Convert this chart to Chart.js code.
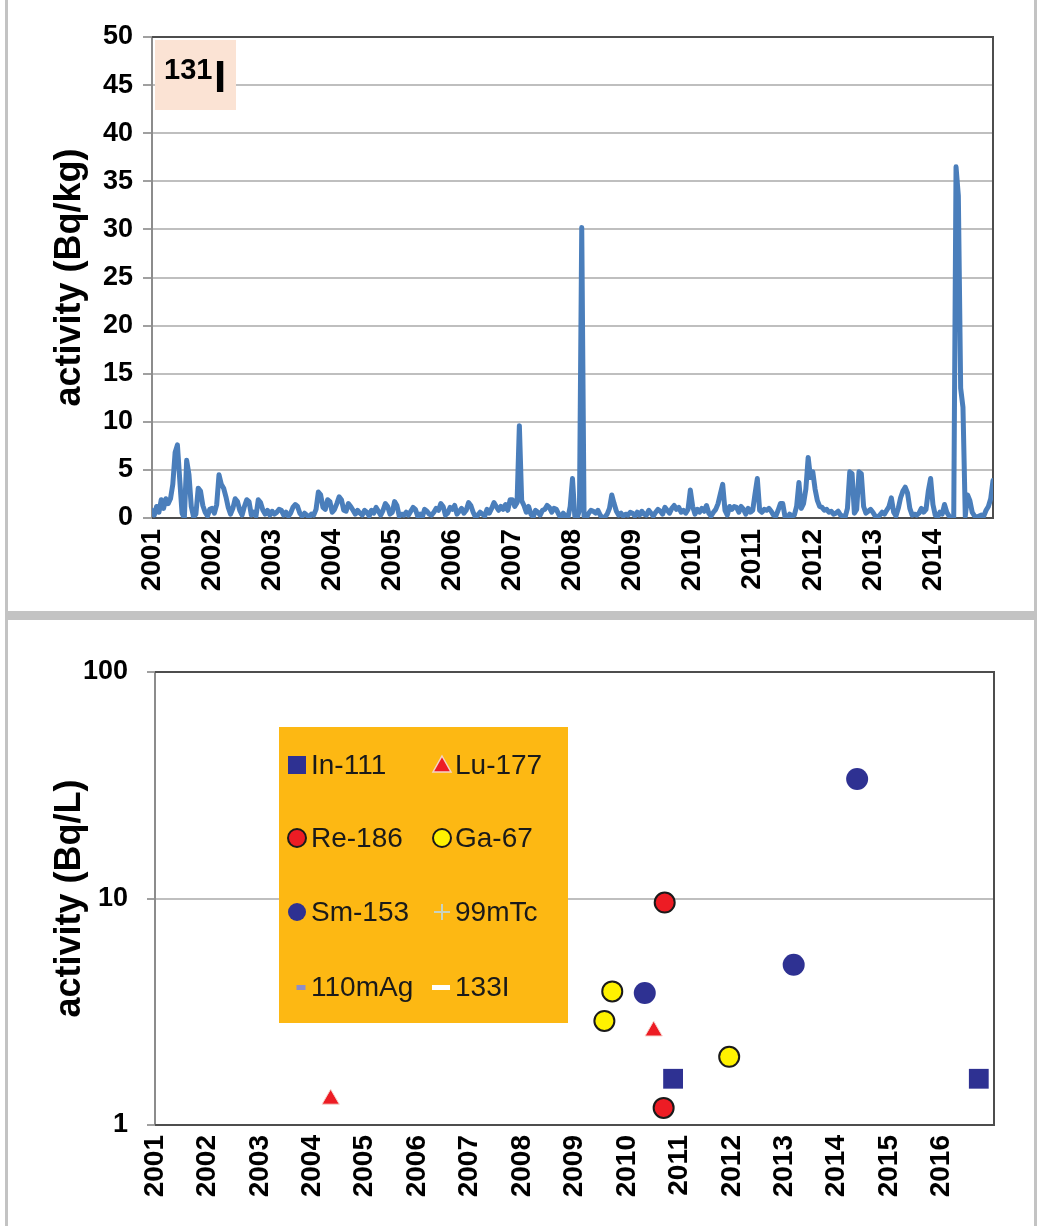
<!DOCTYPE html>
<html><head><meta charset="utf-8">
<script src="https://cdn.jsdelivr.net/npm/chart.js@4.4.1/dist/chart.umd.min.js"></script>
<style>
html,body{margin:0;padding:0;background:#fff;}
#page{position:relative;width:1041px;height:1226px;overflow:hidden;background:#fff;}
#top{position:absolute;left:0;top:0;}
#bot{position:absolute;left:0;top:620px;}
.frame{position:absolute;background:#c3c3c3;}
</style></head><body>
<div id="page">
<canvas id="top" width="1041" height="611"></canvas>
<canvas id="bot" width="1041" height="606"></canvas>
<div class="frame" style="left:5px;top:0;width:3px;height:1226px"></div>
<div class="frame" style="left:1034px;top:0;width:3px;height:1226px"></div>
<div class="frame" style="left:5px;top:611px;width:1032px;height:9px"></div>
</div>
<script>
// ---------- Top panel: 131I activity (Bq/kg), ~biweekly samples per year ----------
const i131_2001 = [0.8,0.3,1.2,0.6,1.9,1.0,2.0,1.5,2.0,3.5,6.8,7.6,4.0,0.5,0.0,6.0,4.5,1.2,0.1,0.4,3.1,2.8,1.3,0.6,0.2,0.9];
const i131_2002 = [1.0,0.5,1.4,4.5,3.5,3.1,2.2,1.1,0.4,1.0,2.0,1.7,0.8,0.3,1.2,1.9,1.7,0.3,0.6,0.2,1.9,1.6,0.8,0.4,0.8,0.3];
const i131_2003 = [0.7,0.4,0.6,0.9,0.8,0.3,0.6,0.2,0.5,1.1,1.4,1.2,0.5,0.2,0.5,0.3,0.1,0.4,0.3,0.9,2.7,2.4,1.1,0.9,1.9,1.7];
const i131_2004 = [0.6,0.9,1.5,2.2,1.9,0.8,0.7,1.5,1.2,0.8,0.4,0.8,0.5,0.3,0.8,0.6,0.2,0.8,0.5,1.1,0.7,0.3,0.8,1.5,1.2,0.4];
const i131_2005 = [0.6,1.7,1.3,0.2,0.4,0.3,0.6,0.3,0.7,1.1,0.9,0.2,0.4,0.1,0.9,0.7,0.4,0.3,0.6,1.0,0.8,1.5,1.2,0.3,0.5,1.1];
const i131_2006 = [0.9,1.3,0.4,0.7,1.0,0.5,0.8,1.6,1.3,0.6,0.1,0.3,0.6,0.4,0.2,0.9,0.5,1.0,1.6,1.2,0.8,1.2,0.9,1.4,0.8,1.9];
const i131_2007 = [1.9,1.2,1.6,9.6,1.8,1.3,0.6,1.2,0.4,0.1,0.8,0.6,0.3,0.8,0.9,1.3,1.1,0.6,1.0,0.9,0.4,0.0,0.5,0.2,0.0,1.2];
const i131_2008 = [4.1,0.2,0.0,0.8,30.2,0.2,0.0,0.5,0.8,0.7,0.5,0.8,0.3,0.0,0.1,0.4,1.0,2.4,1.5,0.7,0.3,0.5,0.2,0.4,0.3,0.6];
const i131_2009 = [0.5,0.2,0.6,0.3,0.7,0.4,0.3,0.8,0.5,0.2,0.6,0.9,0.7,0.4,1.1,0.8,0.5,1.0,1.3,0.9,1.1,0.6,0.8,0.5,0.9,2.9];
const i131_2010 = [1.2,0.4,0.9,0.6,1.0,0.7,1.3,0.5,0.2,0.6,0.9,1.5,2.5,3.5,0.8,0.3,1.2,0.9,1.2,1.1,0.6,1.2,0.9,0.4,1.0,0.6];
const i131_2011 = [0.8,2.5,4.1,0.8,0.6,0.9,0.8,1.0,0.7,0.3,0.2,0.8,1.5,1.5,0.1,0.0,0.4,0.2,0.3,1.2,3.7,1.0,1.5,3.0,6.3,4.2];
const i131_2012 = [4.8,3.0,1.8,1.2,1.1,0.8,0.9,0.6,0.7,0.4,0.5,0.7,0.3,0.2,0.1,1.0,4.8,4.6,0.5,0.9,4.8,4.6,1.2,0.5,0.7,0.9];
const i131_2013 = [0.6,0.2,0.1,0.3,0.6,0.4,0.8,1.2,2.1,0.6,0.2,1.0,2.1,2.8,3.2,2.6,1.0,0.3,0.4,0.3,0.5,1.0,0.6,0.9,2.8,4.1];
const i131_2014 = [1.4,0.3,0.1,0.6,0.4,1.4,0.6,0.2,0.0,0.0,36.5,33.5,13.5,11.5,0.2,2.4,1.8,0.6,0.2,0.1,0.2,0.3,0.2,0.8,1.2,2.0];
const i131_2015 = [3.9];
const sampleYears = [2001,2002,2003,2004,2005,2006,2007,2008,2009,2010,2011,2012,2013,2014];
const i131ByYear = [i131_2001,i131_2002,i131_2003,i131_2004,i131_2005,i131_2006,i131_2007,i131_2008,i131_2009,i131_2010,i131_2011,i131_2012,i131_2013,i131_2014];
const topYearTicks = [2001,2002,2003,2004,2005,2006,2007,2008,2009,2010,2011,2012,2013,2014];
const topYTicks = [0,5,10,15,20,25,30,35,40,45,50];

// ---------- Bottom panel: activity (Bq/L) ----------
const in111Dates = [2010.88, 2016.71];  const in111Vals = [1.6, 1.6];
const lu177Dates = [2004.35, 2010.51];  const lu177Vals = [1.3, 2.6];
const re186Dates = [2010.72, 2010.70];  const re186Vals = [9.6, 1.19];
const ga67Dates  = [2009.57, 2009.72, 2011.95]; const ga67Vals = [2.88, 3.89, 2.0];
const sm153Dates = [2010.34, 2013.18, 2014.39]; const sm153Vals = [3.83, 5.1, 33.7];
const tc99mDates = []; const tc99mVals = [];
const ag110mDates = []; const ag110mVals = [];
const i133Dates = []; const i133Vals = [];
const bottomYearTicks = [2001,2002,2003,2004,2005,2006,2007,2008,2009,2010,2011,2012,2013,2014,2015,2016];
const bottomYTicks = [1, 10, 100];

// ---------- helpers ----------
const FONT = '"Liberation Sans", Arial, sans-serif';
function pts(xs, ys) { return xs.map((x, i) => ({x: x, y: ys[i]})); }
const i131Points = [];
sampleYears.forEach((yr, k) => {
  const vals = i131ByYear[k];
  vals.forEach((v, i) => i131Points.push({x: yr + i / vals.length, y: v}));
});
i131Points.push({x: 2015, y: i131_2015[0]});

const plotFrame = {
  id: 'plotFrame',
  beforeDatasetsDraw(chart, args, opts) {
    const {ctx, chartArea: a} = chart;
    ctx.save();
    ctx.lineWidth = 2;
    ctx.strokeStyle = opts.leftColor || '#8c8c8c';
    ctx.beginPath(); ctx.moveTo(a.left, a.top); ctx.lineTo(a.left, a.bottom); ctx.stroke();
    ctx.strokeStyle = opts.color || '#4d4d4d';
    ctx.beginPath();
    ctx.moveTo(a.left, a.top); ctx.lineTo(a.right, a.top); ctx.lineTo(a.right, a.bottom); ctx.lineTo(a.left, a.bottom);
    ctx.stroke();
    ctx.restore();
  }
};

const isoLabel = {
  id: 'isoLabel',
  beforeDatasetsDraw(chart, args, opts) {
    if (!opts || !opts.show) return;
    const {ctx} = chart;
    ctx.save();
    ctx.fillStyle = '#fbe3d4';
    ctx.fillRect(155, 40, 81, 70);
    ctx.fillStyle = '#000';
    ctx.textBaseline = 'alphabetic';
    ctx.font = 'bold 29px ' + FONT;
    ctx.fillText('131', 164, 79);
    ctx.font = 'bold 44px ' + FONT;
    ctx.fillText('I', 214, 92);
    ctx.restore();
  }
};

const boxLegend = {
  id: 'boxLegend',
  afterDatasetsDraw(chart, args, opts) {
    if (!opts || !opts.show) return;
    const {ctx} = chart;
    ctx.save();
    ctx.fillStyle = '#fdb813';
    ctx.fillRect(279, 107, 289, 296);
    const rows = [145, 218, 292, 367];
    const mx = [297, 442], tx = [311, 455];
    chart.data.datasets.forEach((ds, i) => {
      const col = i % 2, row = Math.floor(i / 2);
      const cx = mx[col], cy = rows[row];
      ctx.lineWidth = 2;
      if (ds.pointStyle === 'rect') {
        ctx.fillStyle = ds.backgroundColor; ctx.fillRect(cx - 9, cy - 9, 18, 18);
      } else if (ds.pointStyle === 'triangle') {
        ctx.beginPath(); ctx.moveTo(cx, cy - 9); ctx.lineTo(cx + 9, cy + 7); ctx.lineTo(cx - 9, cy + 7); ctx.closePath();
        ctx.fillStyle = ds.backgroundColor; ctx.fill();
        ctx.lineWidth = 1.5; ctx.strokeStyle = '#f3d2c8'; ctx.stroke();
      } else if (ds.pointStyle === 'circle') {
        ctx.beginPath(); ctx.arc(cx, cy, 9, 0, Math.PI * 2);
        ctx.fillStyle = ds.backgroundColor; ctx.fill();
        if (ds.borderWidth) { ctx.strokeStyle = ds.borderColor; ctx.lineWidth = 2; ctx.stroke(); }
      } else if (ds.pointStyle === 'cross') {
        ctx.strokeStyle = ds.borderColor; ctx.lineWidth = 2;
        ctx.beginPath(); ctx.moveTo(cx - 8, cy); ctx.lineTo(cx + 8, cy); ctx.moveTo(cx, cy - 8); ctx.lineTo(cx, cy + 8); ctx.stroke();
      } else if (ds.pointStyle === 'line') {
        ctx.fillStyle = ds.borderColor;
        const w = ds.legendDashWidth || 10;
        ctx.fillRect(cx - w / 2 + (ds.legendDashShift || 0), cy - 2, w, 5);
      }
      ctx.fillStyle = '#1a1a1a';
      ctx.font = '28px ' + FONT;
      ctx.textBaseline = 'middle';
      ctx.textAlign = 'left';
      ctx.fillText(ds.label, tx[col], cy + 1);
    });
    ctx.restore();
  }
};

Chart.register(plotFrame, isoLabel, boxLegend);

const yTickFont = {family: FONT, size: 27, weight: 'bold'};
const xTickFont = {family: FONT, size: 28, weight: 'bold'};
const titleFont = {family: FONT, size: 36, weight: 'bold'};

new Chart(document.getElementById('top'), {
  type: 'line',
  data: {datasets: [{
    label: '131I', data: i131Points, borderColor: '#4a7ebb', backgroundColor: '#4a7ebb',
    borderWidth: 5, pointRadius: 0, tension: 0, fill: false, borderJoinStyle: 'round', borderCapStyle: 'round'
  }]},
  options: {
    responsive: false, animation: false,
    layout: {padding: {left: 0, right: 48, top: 37, bottom: 0}},
    plugins: {legend: {display: false}, tooltip: {enabled: false},
      plotFrame: {color: '#4d4d4d', leftColor: '#8c8c8c'}, isoLabel: {show: true}, boxLegend: {show: false}},
    scales: {
      x: {type: 'linear', min: 2001, max: 2015,
        afterFit: s => { s.height = 93; },
        afterBuildTicks: s => { s.ticks = topYearTicks.map(v => ({value: v})); },
        grid: {display: false, drawTicks: false}, border: {display: false},
        ticks: {autoSkip: false, minRotation: 90, maxRotation: 90, padding: 11, color: '#000', font: xTickFont,
          callback: v => String(v)}},
      y: {min: 0, max: 50,
        afterFit: s => { s.width = 152; },
        afterBuildTicks: s => { s.ticks = topYTicks.map(v => ({value: v})); },
        grid: {color: '#bfbfbf', lineWidth: 2, tickLength: 9, tickColor: '#a0a0a0'}, border: {display: false},
        ticks: {padding: 10, color: '#000', font: yTickFont, callback: v => String(v)},
        title: {display: true, text: 'activity (Bq/kg)', color: '#000', font: titleFont, padding: {top: 48, bottom: 0}}}
    }
  }
});

new Chart(document.getElementById('bot'), {
  type: 'scatter',
  data: {datasets: [
    {label: 'In-111', data: pts(in111Dates, in111Vals), pointStyle: 'rect', pointRadius: 14, backgroundColor: '#2e3192', borderColor: '#2e3192', borderWidth: 0},
    {label: 'Lu-177', data: pts(lu177Dates, lu177Vals), pointStyle: 'triangle', pointRadius: 10, backgroundColor: '#ed1c24', borderColor: '#f6d6cf', borderWidth: 1},
    {label: 'Re-186', data: pts(re186Dates, re186Vals), pointStyle: 'circle', pointRadius: 10, backgroundColor: '#ed1c24', borderColor: '#1a1a1a', borderWidth: 2},
    {label: 'Ga-67', data: pts(ga67Dates, ga67Vals), pointStyle: 'circle', pointRadius: 10, backgroundColor: '#fff200', borderColor: '#1a1a1a', borderWidth: 2},
    {label: 'Sm-153', data: pts(sm153Dates, sm153Vals), pointStyle: 'circle', pointRadius: 11, backgroundColor: '#2e3192', borderColor: '#2e3192', borderWidth: 0},
    {label: '99mTc', data: pts(tc99mDates, tc99mVals), pointStyle: 'cross', pointRadius: 8, backgroundColor: '#c9d3bf', borderColor: '#c9d3bf', borderWidth: 2},
    {label: '110mAg', data: pts(ag110mDates, ag110mVals), pointStyle: 'line', pointRadius: 5, backgroundColor: '#8e8ec9', borderColor: '#8e8ec9', borderWidth: 3, legendDashWidth: 9, legendDashShift: 4},
    {label: '133I', data: pts(i133Dates, i133Vals), pointStyle: 'line', pointRadius: 9, backgroundColor: '#ffffff', borderColor: '#ffffff', borderWidth: 4, legendDashWidth: 18, legendDashShift: -1}
  ]},
  options: {
    responsive: false, animation: false,
    layout: {padding: {left: 0, right: 47, top: 52, bottom: 0}},
    plugins: {legend: {display: false}, tooltip: {enabled: false},
      plotFrame: {color: '#4d4d4d', leftColor: '#8c8c8c'}, isoLabel: {show: false}, boxLegend: {show: true}},
    scales: {
      x: {type: 'linear', min: 2001, max: 2017,
        afterFit: s => { s.height = 101; },
        afterBuildTicks: s => { s.ticks = bottomYearTicks.map(v => ({value: v})); },
        grid: {display: false, drawTicks: false}, border: {display: false},
        ticks: {autoSkip: false, minRotation: 90, maxRotation: 90, padding: 10, color: '#000', font: xTickFont,
          callback: v => String(v)}},
      y: {type: 'logarithmic', min: 1, max: 100,
        afterFit: s => { s.width = 155; },
        afterBuildTicks: s => { s.ticks = bottomYTicks.map(v => ({value: v})); },
        grid: {color: '#bfbfbf', lineWidth: 2, tickLength: 8, tickColor: '#a0a0a0'}, border: {display: false},
        ticks: {padding: 19, color: '#000', font: yTickFont, callback: v => String(v)},
        title: {display: true, text: 'activity (Bq/L)', color: '#000', font: titleFont, padding: {top: 48, bottom: 0}}}
    }
  }
});
</script>
</body></html>
